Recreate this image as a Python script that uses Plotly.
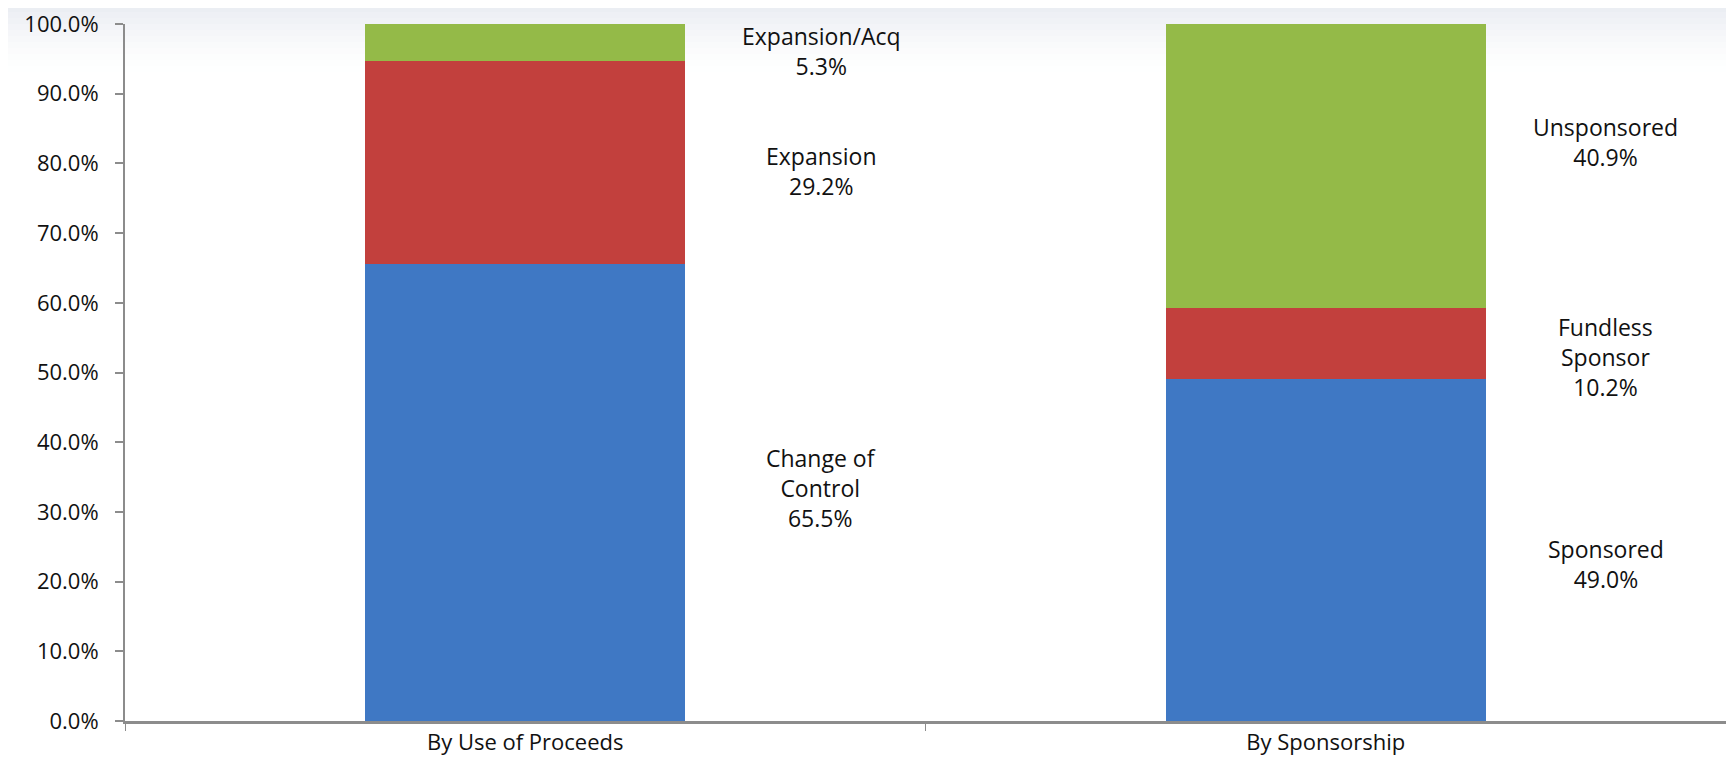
import plotly.graph_objects as go

categories = ["By Use of Proceeds", "By Sponsorship"]
bottom_vals = [65.5, 49.0]
middle_vals = [29.2, 10.2]
top_vals = [5.3, 40.9]

labels_left = ["Change of<br>Control<br>65.5%", "Expansion<br>29.2%", "Expansion/Acq<br>5.3%"]
labels_right = ["Sponsored<br>49.0%", "Fundless<br>Sponsor<br>10.2%", "Unsponsored<br>40.9%"]
# label vertical positions (fraction of axis)
label_y_left = [0.334, 0.789, 0.961]
label_y_right = [0.225, 0.522, 0.830]

BLUE = "#3f78c4"
RED = "#c2403d"
GREEN = "#94ba48"
FONT = "Open Sans"

fig = go.Figure()
for vals, col in [(bottom_vals, BLUE), (middle_vals, RED), (top_vals, GREEN)]:
    fig.add_trace(go.Bar(
        x=categories, y=[v / 100 for v in vals], width=0.40,
        marker=dict(color=col, line=dict(width=0)),
        showlegend=False, hoverinfo="skip",
    ))

# page has an 8px body margin; keep the figure inside the viewport
W, H = 1718, 749
L, R, T, B = 117, 0, 16, 36
pw, ph = W - L - R, H - T - B

# top faint gradient background
n = 12
for i in range(n):
    y_top_px = i * 6 - 8
    y_bot_px = (i + 1) * 6 - 8
    fig.add_shape(type="rect", xref="paper", yref="paper",
                  x0=-L / pw, x1=1, y0=1 + (T - y_bot_px) / ph, y1=1 + (T - y_top_px) / ph,
                  fillcolor="#dfe3ec", opacity=0.7 * (1 - i / n) ** 1.5,
                  line=dict(width=0), layer="below")

for txt, yy in zip(labels_left, label_y_left):
    fig.add_annotation(x=0.37, y=yy, xref="x", yref="y", text=txt, showarrow=False,
                       font=dict(family=FONT, size=23, color="#111"), align="center")
for txt, yy in zip(labels_right, label_y_right):
    fig.add_annotation(x=1.35, y=yy, xref="x", yref="y", text=txt, showarrow=False,
                       font=dict(family=FONT, size=23, color="#111"), align="center")

fig.update_layout(
    width=W, height=H, barmode="stack",
    margin=dict(l=L, r=R, t=T, b=B),
    paper_bgcolor="white", plot_bgcolor="rgba(0,0,0,0)",
    font=dict(family=FONT, color="#111"),
)
fig.update_yaxes(range=[0, 1], dtick=0.1, tickformat=".1%", showgrid=False, zeroline=False,
                 automargin=False,
                 showline=True, linecolor="#8c8c8c", linewidth=2,
                 ticks="outside", ticklen=8, tickcolor="#8c8c8c", tickwidth=2,
                 ticklabelstandoff=12, ticklabeloverflow="allow",
                 tickfont=dict(family=FONT, size=22, color="#111"))
fig.update_xaxes(range=[-0.5, 1.5], showgrid=False, zeroline=False,
                 automargin=False,
                 showline=True, linecolor="#8c8c8c", linewidth=2.5,
                 ticks="outside", tickson="boundaries", ticklen=7, tickcolor="#8c8c8c", tickwidth=1,
                 ticklabeloverflow="allow",
                 tickfont=dict(family=FONT, size=22, color="#111"))

fig.write_html("out.html")
